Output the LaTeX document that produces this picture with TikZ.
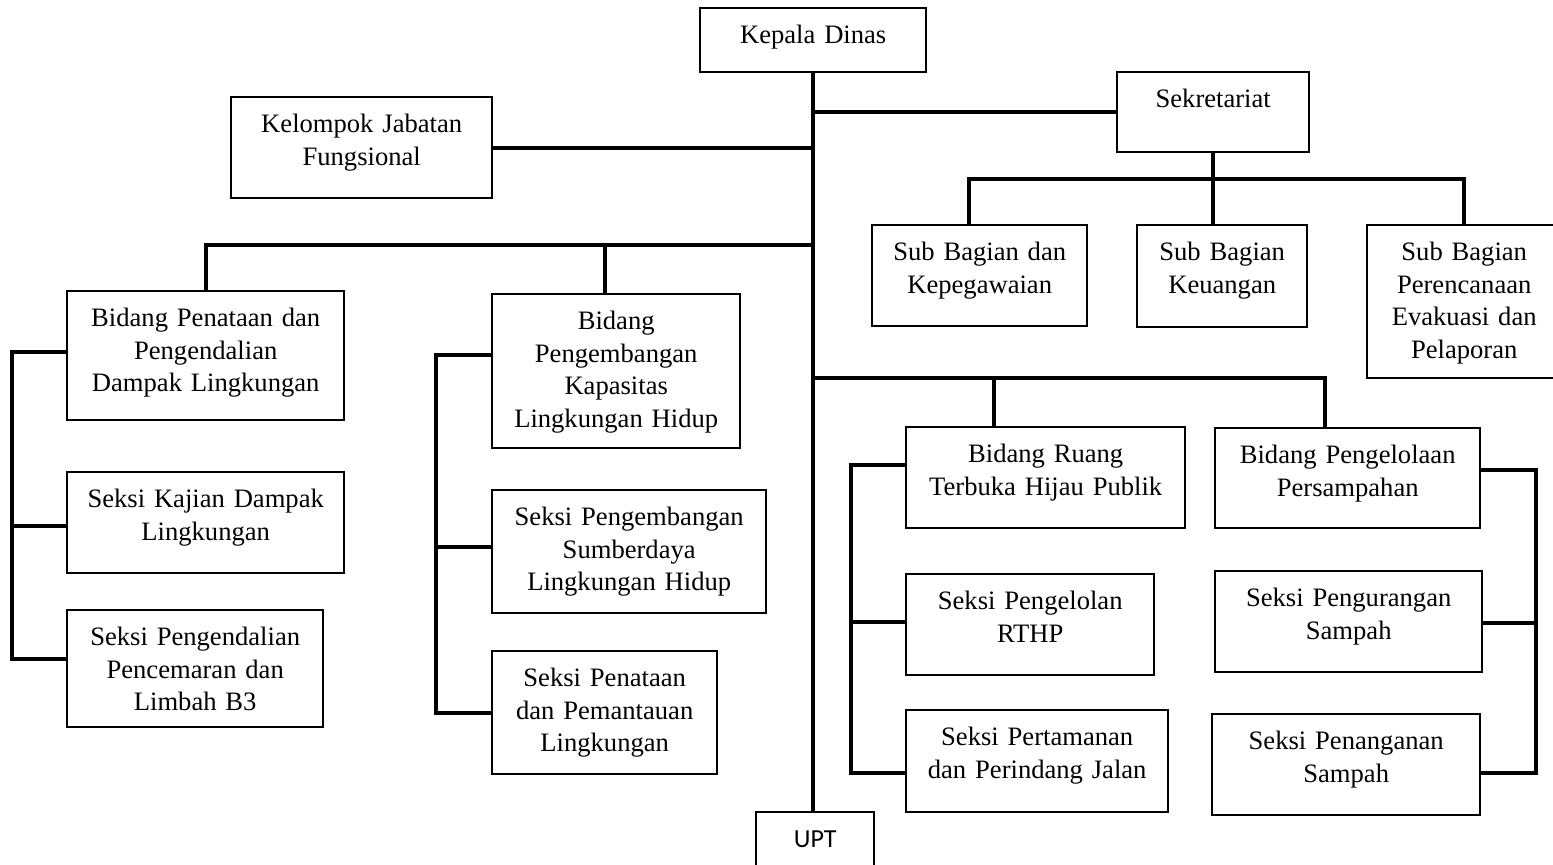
\documentclass[tikz,border=0pt]{standalone}
\usepackage{fontspec}
\setmainfont{Liberation Serif}
\newfontfamily\uptfont{Carlito}
\usepackage{tikz}

\begin{document}
\begin{tikzpicture}[x=0.5pt,y=-0.5pt,
  font=\fontsize{13.3}{16.4}\selectfont,
  unit/.style={draw,line width=1.2pt,inner sep=0pt,anchor=north west,align=center,text height=17.5pt},
  sz/.style 2 args={text width={#1*0.5pt},text depth={#2*0.5pt-17.5pt}},
  link/.style={line width=2pt}]
  \useasboundingbox (0,0) rectangle (1553,864);

  \node[unit,sz={226}{64}] (kadis) at (699,7) {Kepala Dinas};
  \node[unit,sz={192}{80}] (sekr) at (1116,71) {Sekretariat};
  \node[unit,sz={261}{101}] (kjf) at (230,96) {Kelompok Jabatan\\Fungsional};
  \node[unit,sz={215}{101}] (sbd) at (871,224) {Sub Bagian dan\\Kepegawaian};
  \node[unit,sz={170}{102}] (sbk) at (1136,224) {Sub Bagian\\Keuangan};
  \node[unit,sz={194}{153}] (sbp) at (1366,224) {Sub Bagian\\Perencanaan\\Evakuasi dan\\Pelaporan};

  \node[unit,sz={277}{129}] (bpdl) at (66,290) {Bidang Penataan dan\\Pengendalian\\Dampak Lingkungan};
  \node[unit,sz={277}{101}] (skdl) at (66,471) {Seksi Kajian Dampak\\Lingkungan};
  \node[unit,sz={256}{117}] (spdl) at (66,609) {Seksi Pengendalian\\Pencemaran dan\\Limbah B3};

  \node[unit,sz={248}{154}] (bpkl) at (491,293) {Bidang\\Pengembangan\\Kapasitas\\Lingkungan Hidup};
  \node[unit,sz={274}{123}] (spsl) at (491,489) {Seksi Pengembangan\\Sumberdaya\\Lingkungan Hidup};
  \node[unit,sz={225}{123}] (sppl) at (491,650) {Seksi Penataan\\dan Pemantauan\\Lingkungan};

  \node[unit,sz={279}{101}] (brth) at (905,426) {Bidang Ruang\\Terbuka Hijau Publik};
  \node[unit,sz={248}{101}] (srth) at (905,573) {Seksi Pengelolan\\RTHP};
  \node[unit,sz={262}{102}] (sptj) at (905,709) {Seksi Pertamanan\\dan Perindang Jalan};

  \node[unit,sz={265}{100}] (bpps) at (1214,427) {Bidang Pengelolaan\\Persampahan};
  \node[unit,sz={267}{101}] (spgs) at (1214,570) {Seksi Pengurangan\\Sampah};
  \node[unit,sz={268}{101}] (spns) at (1211,713) {Seksi Penanganan\\Sampah};

  \node[unit,sz={118}{60},font=\uptfont\fontsize{13}{16}\selectfont] (upt) at (755,811) {UPT};

  \draw[link] (kadis.south) -- (kadis.south |- upt.north);
  \draw[link] (sekr.west) -- (sekr.west -| kadis.south);
  \draw[link] (kjf.east) -- (kjf.east -| kadis.south);

  \draw[link] (bpdl.north) |- (kadis.south |- 0,245);
  \draw[link] (bpkl.north -| 605,0) |- (bpdl.north |- 0,245);

  \draw[link] (sekr.south) -- (sekr.south |- sbk.north);
  \draw[link] (sbd.north -| 969,0) |- (sbp.north |- 0,179) -- (sbp.north);

  \draw[link] (kadis.south |- 0,378) -| (bpps.north -| 1325,0);
  \draw[link] (brth.north -| 994,0) |- (kadis.south |- 0,378);

  \draw[link] (bpdl.west |- 0,352) -- ++(-54,0) |- (spdl.west |- 0,659);
  \draw[link] (skdl.west |- 0,526) -- ++(-54,0);

  \draw[link] (bpkl.west |- 0,355) -- ++(-55,0) |- (sppl.west |- 0,713);
  \draw[link] (spsl.west |- 0,547) -- ++(-55,0);

  \draw[link] (brth.west |- 0,465) -- ++(-54,0) |- (sptj.west |- 0,773);
  \draw[link] (srth.west |- 0,622) -- ++(-54,0);

  \draw[link] (bpps.east |- 0,470) -- ++(55,0) |- (spns.east |- 0,773);
  \draw[link] (spgs.east |- 0,623) -- ++(53,0);
\end{tikzpicture}
\end{document}
